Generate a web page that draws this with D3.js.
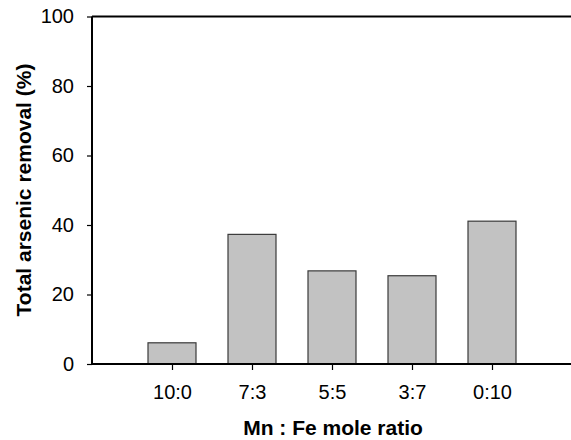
<!DOCTYPE html>
<html><head><meta charset="utf-8">
<script src="https://cdn.jsdelivr.net/npm/d3@7"></script>
<style>body{margin:0;background:#fff}svg{display:block}</style>
</head><body>
<svg id="c" width="571" height="440"></svg>
<script>
const categories = ["10:0", "7:3", "5:5", "3:7", "0:10"];
const removal = [6.1, 37.3, 26.8, 25.4, 41.1];
const yTicks = [0, 20, 40, 60, 80, 100];
const xTitle = "Mn : Fe mole ratio";
const yTitle = "Total arsenic removal (%)";

(function () {
const svg = d3.select("#c");
const mLeft = 92, mRight = 572, mTop = 16.5, mBottom = 364;
const x = d3.scaleLinear().domain([0, categories.length + 1]).range([mLeft, mRight]);
const y = d3.scaleLinear().domain([0, 100]).range([mBottom, mTop]);
const font = "Liberation Sans, Arial, sans-serif";
const bw = 48;

svg.selectAll("rect.bar").data(removal).join("rect")
  .attr("class", "bar")
  .attr("x", (d, i) => x(i + 1) - bw / 2)
  .attr("y", d => y(d))
  .attr("width", bw)
  .attr("height", d => y(0) - y(d))
  .attr("fill", "#c2c2c2").attr("stroke", "#3a3a3a").attr("stroke-width", 1.2);

svg.append("line").attr("x1", mLeft).attr("x2", 571).attr("y1", mTop).attr("y2", mTop)
  .attr("stroke", "#000").attr("stroke-width", 2);

const yAxis = svg.append("g").attr("transform", `translate(${mLeft},0)`)
  .call(d3.axisLeft(y).tickValues(yTicks).tickSize(5).tickPadding(13));
const xAxis = svg.append("g").attr("transform", `translate(0,${mBottom})`)
  .call(d3.axisBottom(x).tickValues(d3.range(1, categories.length + 1))
    .tickFormat((d, i) => categories[i]).tickSize(6).tickPadding(15));
[yAxis, xAxis].forEach(g => {
  g.select(".domain").attr("stroke", "#000").attr("stroke-width", 2);
  g.selectAll(".tick line").attr("stroke", "#000").attr("stroke-width", 1.2);
  g.selectAll("text").attr("font-family", font).attr("font-size", 20).attr("fill", "#000");
});
xAxis.select(".domain").attr("d", `M${mLeft},0H571`);
yAxis.select(".domain").attr("d", `M0,${mTop}V${mBottom}`);

svg.append("text").attr("x", 333).attr("y", 435).attr("text-anchor", "middle")
  .attr("font-family", font).attr("font-weight", "bold").attr("font-size", 21).text(xTitle);
svg.append("text").attr("transform", "translate(31,190) rotate(-90)").attr("text-anchor", "middle")
  .attr("font-family", font).attr("font-weight", "bold").attr("font-size", 21).text(yTitle);
})();
</script>
</body></html>
